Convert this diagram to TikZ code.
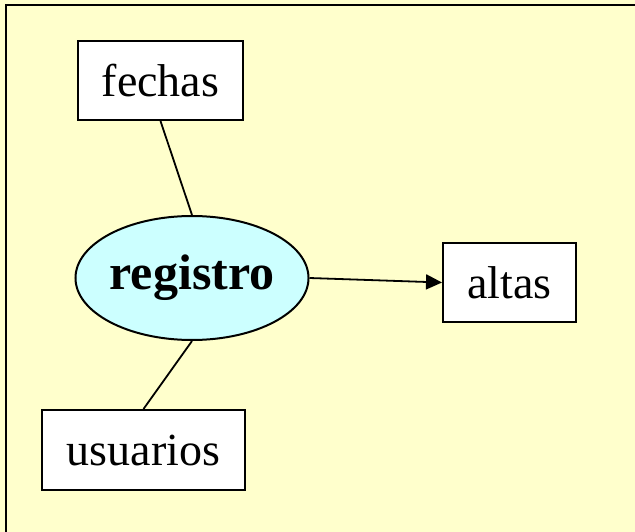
\documentclass[tikz,border=0pt]{standalone}
\usepackage{fontspec}
\setmainfont{Liberation Serif}
\usetikzlibrary{shapes.geometric,arrows.meta}
\definecolor{bgyellow}{HTML}{FFFFCC}
\definecolor{cyanfill}{HTML}{CCFFFF}
\begin{document}
\begin{tikzpicture}[x=1pt,y=-1pt,
  boxnode/.style={draw=black,line width=2pt,fill=white,inner sep=0pt,
    font=\fontsize{46}{50}\selectfont},
  conn/.style={draw=black,line width=1.8pt}]
\useasboundingbox (0,0) rectangle (635,532);
\fill[bgyellow] (0,0) rectangle (635,532);
\draw[line width=2.2pt] (6,540) -- (6,5) -- (640,5);
\node[boxnode,minimum width=165pt,minimum height=79pt] (fechas) at (160.5,80.5) {fechas};
\node[draw=black,line width=2pt,fill=cyanfill,ellipse,inner sep=0pt,
  minimum width=231pt,minimum height=124pt,
  font=\fontsize{50}{54}\selectfont\bfseries] (registro) at (192,278) {registro};
\node[boxnode,minimum width=133pt,minimum height=79pt] (altas) at (509.5,282.5) {altas};
\node[boxnode,minimum width=203pt,minimum height=80pt] (usuarios) at (143.5,450) {usuarios};
\draw[conn] (fechas.south) -- (registro.north);
\draw[conn] (registro.south) -- (usuarios.north);
\draw[conn,-{Triangle[length=16pt,width=15pt]}] (registro.east) -- (altas.west);
\end{tikzpicture}
\end{document}
